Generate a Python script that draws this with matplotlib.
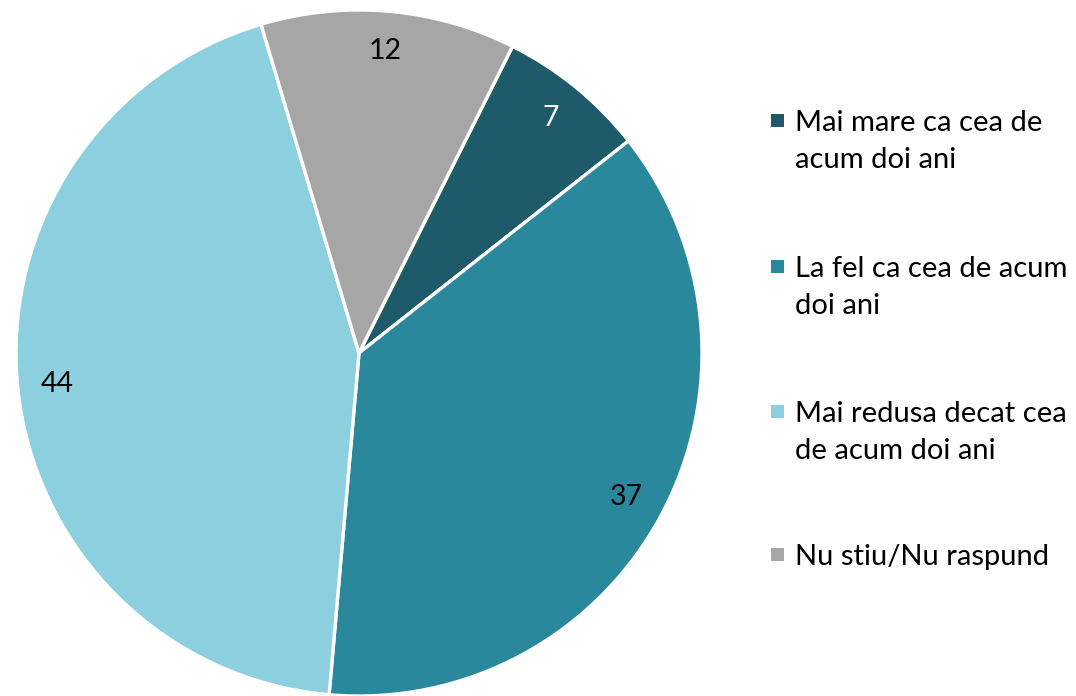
import matplotlib.pyplot as plt
from matplotlib.patches import Rectangle

plt.rcParams['font.family'] = ['Lato', 'DejaVu Sans']

labels = ['Mai mare ca cea de\nacum doi ani',
          'La fel ca cea de acum\ndoi ani',
          'Mai redusa decat cea\nde acum doi ani',
          'Nu stiu/Nu raspund']
values = [7, 37, 44, 12]
colors = ['#1E5A69', '#2A889C', '#8CD0E0', '#A6A6A6']
text_colors = ['white', 'black', 'black', 'black']

W, H = 1076, 696
fig = plt.figure(figsize=(W / 100, H / 100), dpi=100)

# pie centre ~ (359, 353) px, radius ~ 343 px
cx, cy, r = 359, 353, 343
ax = fig.add_axes([(cx - r) / W, (H - cy - r) / H, 2 * r / W, 2 * r / H])

wedges, txts, autotxts = ax.pie(
    values, colors=colors, startangle=63.4, counterclock=False,
    autopct=lambda p: f'{p:.0f}', pctdistance=0.885, radius=1,
    wedgeprops=dict(edgecolor='white', linewidth=2.4))
for t, c in zip(autotxts, text_colors):
    t.set_color(c)
    t.set_fontsize(20.5)
ax.set_xlim(-1, 1)
ax.set_ylim(-1, 1)
ax.set_aspect('equal')
ax.axis('off')

# legend drawn by hand, each line placed separately
base_y = [131, 277, 422, 565]
line_gap = 37
for lab, col, by in zip(labels, colors, base_y):
    sq_top = by - 17
    fig.patches.append(Rectangle((771 / W, 1 - (sq_top + 13) / H), 13 / W, 13 / H,
                                 transform=fig.transFigure,
                                 facecolor=col, edgecolor='none'))
    for i, line in enumerate(lab.split('\n')):
        fig.text(795 / W, 1 - (by + i * line_gap) / H, line, fontsize=21,
                 va='baseline', ha='left', color='black')

fig.savefig('out.png', dpi=100)
